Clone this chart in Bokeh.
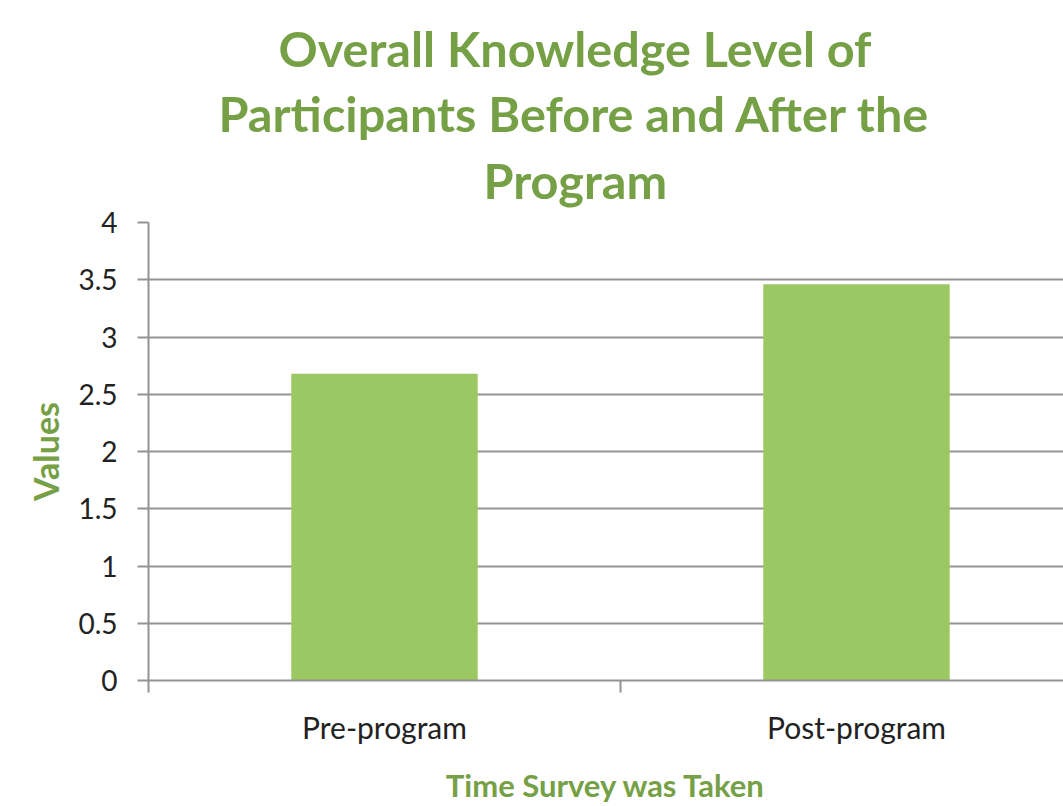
from bokeh.plotting import figure
from bokeh.models import Range1d, FixedTicker, Title
from bokeh.embed import file_html
from bokeh.resources import INLINE

categories = ["Pre-program", "Post-program"]
values = [2.68, 3.46]
y_ticks = [0, 0.5, 1, 1.5, 2, 2.5, 3, 3.5, 4]
y_tick_labels = ["0", "0.5", "1", "1.5", "2", "2.5", "3", "3.5", "4"]
title_lines = ["Overall Knowledge Level of", "Participants Before and After the", "Program"]
x_title = "Time Survey was Taken"
y_title = "Values"

GREEN_T = "#76A045"
BAR = "#9CC864"
GRID = "#939393"
FONT = "Lato"

xs = [i + 0.5 for i in range(len(categories))]
bounds = list(range(len(categories) + 1))

p = figure(width=1063, height=806, output_backend="svg", toolbar_location=None,
           x_range=Range1d(0, 1.9386), y_range=Range1d(0, 4))
p.min_border_left = 148
p.min_border_top = 222
p.min_border_bottom = 125
p.min_border_right = 0
p.outline_line_color = None
p.background_fill_color = "white"
p.border_fill_color = "white"

p.vbar(x=xs, top=values, width=0.395, bottom=0, color=BAR, line_color=None)

# y axis
ya = p.yaxis[0]
ya.ticker = FixedTicker(ticks=y_ticks, minor_ticks=[])
ya.major_label_overrides = {t: l for t, l in zip(y_ticks, y_tick_labels)}
ya.axis_line_color = GRID
ya.axis_line_width = 2
ya.major_tick_line_color = GRID
ya.major_tick_line_width = 2
ya.major_tick_out = 11
ya.major_tick_in = 0
ya.minor_tick_line_color = None
ya.major_label_text_font = FONT
ya.major_label_text_font_size = "28px"
ya.major_label_text_color = "#222222"
ya.major_label_standoff = 20
ya.axis_label = y_title
ya.axis_label_text_font = FONT
ya.axis_label_text_font_style = "bold"
ya.axis_label_text_font_size = "34px"
ya.axis_label_text_color = GREEN_T
ya.axis_label_standoff = 9

# x axis
xa = p.xaxis[0]
xa.ticker = FixedTicker(ticks=xs, minor_ticks=bounds)
xa.major_label_overrides = {x: c for x, c in zip(xs, categories)}
xa.axis_line_color = GRID
xa.axis_line_width = 2
xa.major_tick_line_color = None
xa.major_tick_out = 0
xa.major_tick_in = 0
xa.minor_tick_line_color = GRID
xa.minor_tick_line_width = 2
xa.minor_tick_out = 12
xa.minor_tick_in = 0
xa.major_label_text_font = FONT
xa.major_label_text_font_size = "30px"
xa.major_label_text_color = "#222222"
xa.major_label_standoff = 16
xa.axis_label = x_title
xa.axis_label_text_font = FONT
xa.axis_label_text_font_style = "bold"
xa.axis_label_text_font_size = "31px"
xa.axis_label_text_color = GREEN_T
xa.axis_label_standoff = 18

p.xgrid.grid_line_color = None
p.ygrid.ticker = FixedTicker(ticks=y_ticks)
p.ygrid.grid_line_color = GRID
p.ygrid.grid_line_width = 2

# title: three lines, left offsets so each line is centred over the original chart area
title_offsets = [130, 70, 335]
title_standoffs = [24, -14, 28]
p.title.text = ""
p.title.visible = False
for line, off, so in reversed(list(zip(title_lines, title_offsets, title_standoffs))):
    p.add_layout(Title(text=line, align="left", offset=off, text_font=FONT,
                       text_font_style="bold", text_font_size="48.6px",
                       text_color=GREEN_T, standoff=so), "above")

open("out.html", "w").write(file_html(p, INLINE))
